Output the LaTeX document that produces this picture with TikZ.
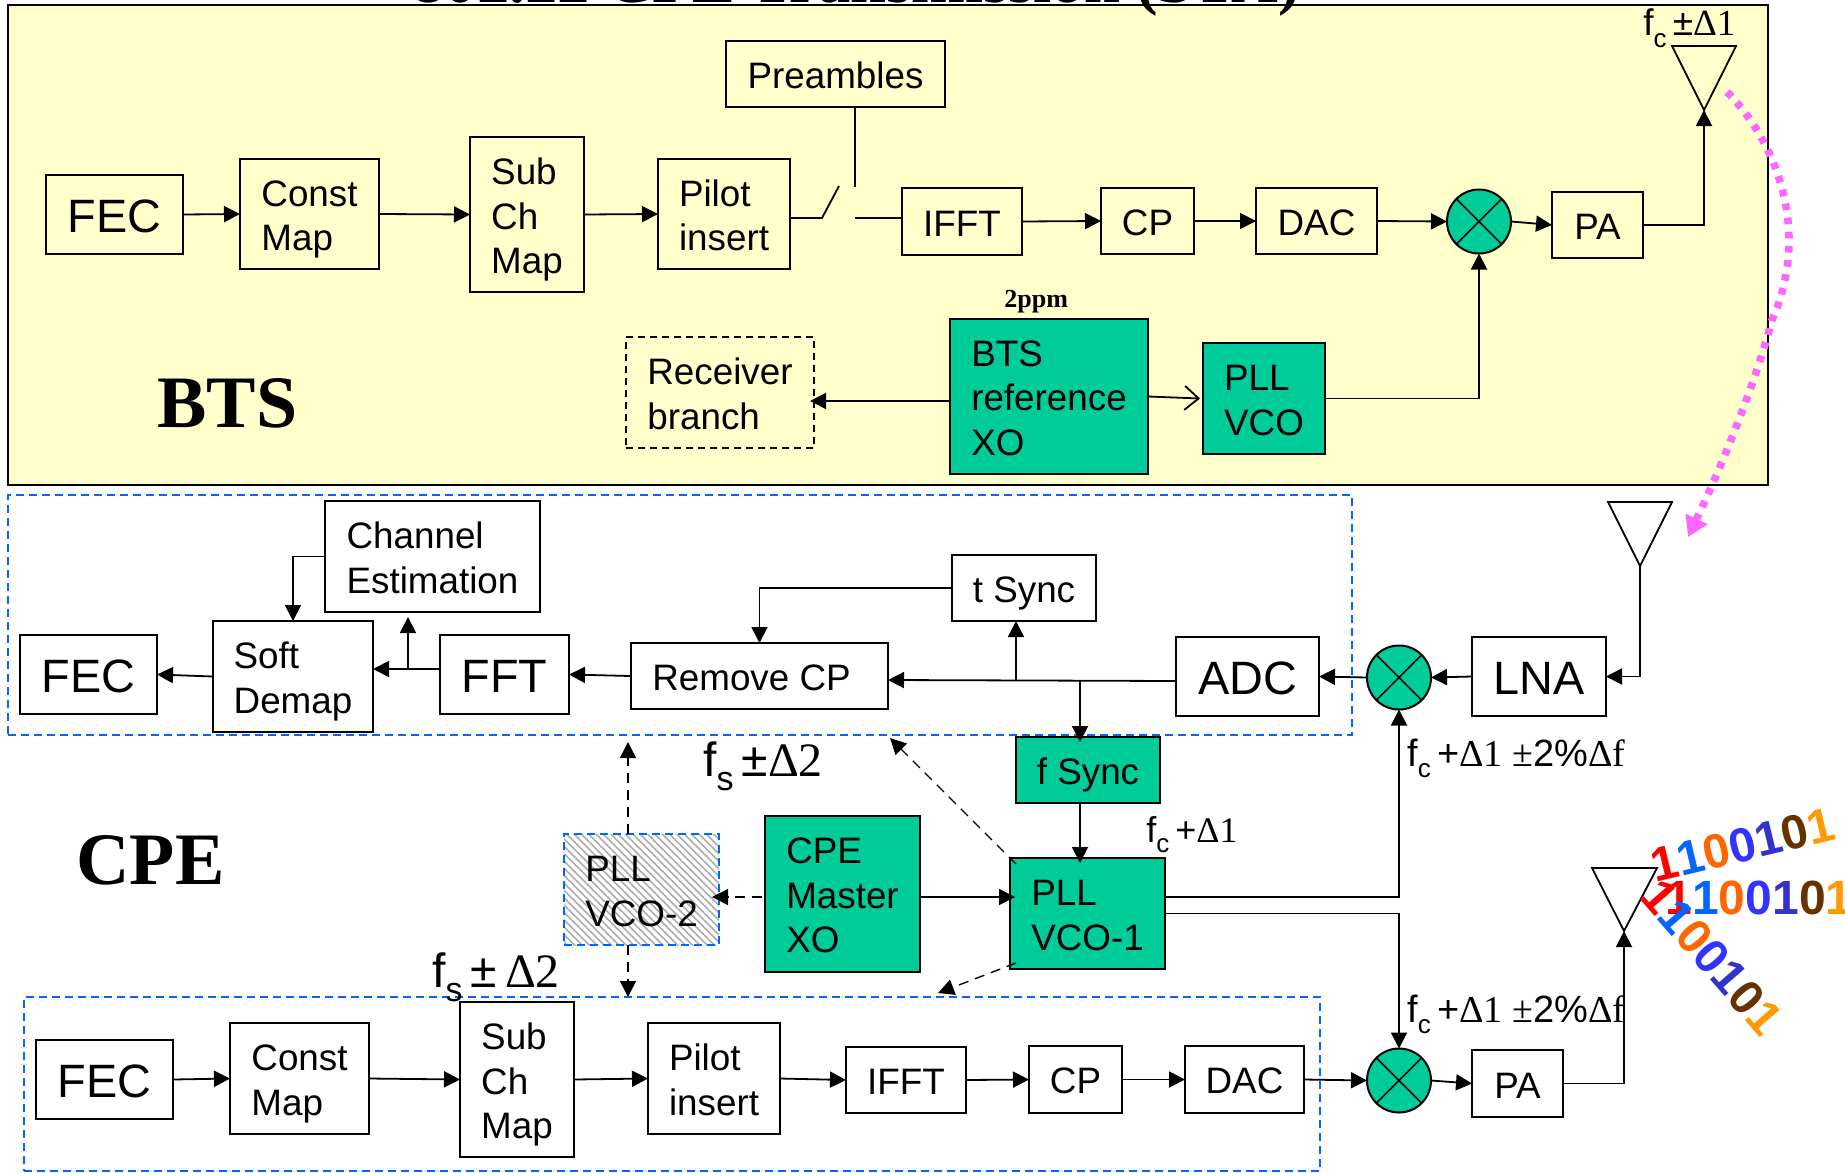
\documentclass[tikz,border=0pt]{standalone}
\usepackage{fontspec}
\setmainfont{Liberation Sans}
\newfontfamily\tms{Liberation Serif}
\usetikzlibrary{arrows.meta,calc,patterns.meta}
\definecolor{yel}{HTML}{FFFFCC}
\definecolor{grn}{HTML}{00CC99}
\definecolor{blu}{HTML}{0066FF}
\definecolor{pnk}{HTML}{FF66FF}
\definecolor{dA}{HTML}{FF0000}
\definecolor{dB}{HTML}{0066FF}
\definecolor{dC}{HTML}{FF6600}
\definecolor{dD}{HTML}{3333FF}
\definecolor{dE}{HTML}{3333CC}
\definecolor{dF}{HTML}{663300}
\definecolor{dG}{HTML}{FF9900}
\newcommand\fsA{\fontsize{18.4}{22.2}\selectfont}
\newcommand\fsB{\fontsize{23.4}{28}\selectfont}
\newcommand\lbl[2]{f\raisebox{-.3em}{\fontsize{#1}{#1}\selectfont #2}}
\newcommand\binstr{\textcolor{dA}{1}\textcolor{dB}{1}\textcolor{dC}{0}\textcolor{dD}{0}\textcolor{dE}{1}\textcolor{dF}{0}\textcolor{dG}{1}}
% \bx{style}{name}{x1}{y1}{x2}{y2}{text}
\newcommand\bx[7]{\node[#1,minimum width={(#5-#3)*0.5pt},minimum height={(#6-#4)*0.5pt}] (#2) at ({(#3+#5)/2},{(#4+#6)/2}) {\rule{0pt}{.79em}#7};}
\tikzset{
  blk/.style={draw=black,line width=1pt,inner sep=0pt,outer sep=0pt,align=left,font=\fsA,text=black},
  big/.style={blk,font=\fsB},
  grnbox/.style={blk,fill=grn},
  bluebox/.style={draw=blu,line width=1pt,dash pattern=on 4pt off 2.5pt,inner sep=0pt,outer sep=0pt},
  recvbox/.style={blk,dash pattern=on 3.5pt off 2.5pt,line width=.8pt},
  hatchbox/.style={bluebox,pattern={Lines[angle=-45,distance=2.6pt,line width=.8pt]},pattern color=gray!65,align=left,font=\fsA,text=black},
  mixer/.style={circle,draw=black,line width=1pt,fill=grn,minimum size=32pt,inner sep=0pt,outer sep=0pt},
  arr/.style={line width=.9pt,-{Triangle[length=8pt,width=8pt]}},
  plain/.style={line width=.9pt},
  darr/.style={line width=.7pt,dash pattern=on 5pt off 3.5pt,-{Triangle[length=8pt,width=8pt]}},
  ant/.style={line width=.9pt},
  crossl/.style={line width=.8pt},
  freq/.style={anchor=base west,inner sep=0pt,text=black},
  heading/.style={anchor=base west,inner sep=0pt,font=\tms\bfseries\fontsize{37}{40}\selectfont},
  bits/.style={inner sep=0pt,font=\bfseries\fontsize{24}{26}\selectfont},
}
\begin{document}
\begin{tikzpicture}[x=0.5pt,y=-0.5pt]
\useasboundingbox (0,0) rectangle (1845,1172);
\fill[white] (0,0) rectangle (1845,1172);
\begin{scope}
\clip (0,0) rectangle (1845,1172);
% panels
\bx{draw=black,line width=1.2pt,fill=yel,inner sep=0pt,outer sep=0pt}{btspanel}{8}{5}{1768}{485}{}
\node[anchor=base west,inner sep=0pt,font=\tms\bfseries\fontsize{32.3}{34}\selectfont] (title) at (412,3) {802.22 CPE Transmission (STA)};
\bx{bluebox}{rxpanel}{8}{495}{1352}{735}{}
\bx{bluebox}{txpanel}{24}{997}{1320}{1171}{}
% BTS
\bx{big}{fec}{46}{175}{183}{254}{FEC}
\bx{blk}{cmap}{240}{159}{379}{269}{Const\\\smash{Map}}
\bx{blk}{sub}{470}{137}{584}{292}{Sub\\Ch\\\smash{Map}}
\bx{blk}{pilot}{658}{159}{790}{269}{Pilot\\insert}
\bx{blk}{pre}{726}{41}{945}{107}{Preambles}
\bx{blk}{ifft}{902}{188}{1022}{255}{IFFT}
\bx{blk}{cp}{1101}{188}{1194}{254}{CP}
\bx{blk}{dac}{1256}{188}{1377}{254}{DAC}
\node[mixer] (mixb) at (1479,221.5) {};
\bx{blk}{pa}{1552}{192}{1643}{258}{PA}
\bx{recvbox}{recv}{626}{337}{814}{448}{Receiver\\branch}
\bx{grnbox}{bref}{950}{319}{1148}{474}{BTS\\reference\\XO}
\bx{grnbox}{pllb}{1203}{343}{1325}{454}{PLL\\VCO}
\node[anchor=base west,inner sep=0pt,font=\tms\bfseries\fontsize{13}{15}\selectfont] (ppm) at (1004,307) {2ppm};
\node[heading] (btsl) at (157,427) {BTS};
\coordinate (ant1) at (1704,110);
\draw[ant,fill=yel] (1672,46) -- (1736,46) -- (ant1) -- cycle;
\node[freq] (fc1) at (1643,36) {\fontsize{18.5}{22}\selectfont \lbl{13}{c}\,±{\tms Δ1}};
% receive
\bx{blk}{che}{325}{501}{540}{612}{Channel\\Estimation}
\bx{blk}{soft}{213}{621}{373}{732}{Soft\\\smash{Demap}}
\bx{big}{fecr}{20}{635}{157}{714}{FEC}
\bx{big}{fft}{440}{635}{569}{714}{FFT}
\bx{blk}{rem}{631}{643}{888}{709}{\hbox{Remove CP\kern8pt}}
\bx{blk}{tsync}{952}{555}{1096}{621}{\smash{t Sync}}
\bx{big}{adc}{1176}{637}{1319}{716}{ADC}
\node[mixer] (mixr) at (1399,677.5) {};
\bx{big}{lna}{1472}{637}{1606}{716}{LNA}
\coordinate (ant2) at (1640,566);
\draw[ant] (1608,502) -- (1672,502) -- (ant2) -- cycle;
% clocks
\bx{grnbox}{fsync}{1016}{737}{1160}{803}{\smash{f Sync}}
\bx{grnbox}{cpem}{765}{816}{920}{972}{CPE\\Master\\XO}
\bx{grnbox}{pllc}{1010}{858}{1165}{969}{PLL\\VCO-1}
\bx{hatchbox}{vco}{564}{834}{719}{945}{PLL\\VCO-2}
\node[heading] (cpel) at (76,884) {CPE};
\node[freq] (fs1) at (703,776) {\fontsize{24}{26}\selectfont \lbl{17}{s}\,±{\tms Δ2}};
\node[freq] (fs2) at (432,987) {\fontsize{24}{26}\selectfont \lbl{17}{s}\,±\,{\tms Δ2}};
\node[freq] (fc2) at (1146,842) {\fontsize{18}{20}\selectfont \lbl{13}{c}\,+{\tms Δ1}};
\node[freq] (fc3) at (1407,766) {\fontsize{19}{22}\selectfont \lbl{13}{c}\,+{\tms Δ1 ±}2\%{\tms Δf}};
\node[freq] (fc4) at (1407,1022) {\fontsize{19}{22}\selectfont \lbl{13}{c}\,+{\tms Δ1 ±}2\%{\tms Δf}};
% transmit
\bx{big}{fect}{36}{1040}{173}{1119}{FEC}
\bx{blk}{cmapt}{230}{1023}{369}{1134}{Const\\\smash{Map}}
\bx{blk}{subt}{460}{1002}{574}{1157}{Sub\\Ch\\\smash{Map}}
\bx{blk}{pilott}{648}{1023}{780}{1134}{Pilot\\insert}
\bx{blk}{ifftt}{846}{1047}{966}{1113}{IFFT}
\bx{blk}{cpt}{1029}{1046}{1122}{1113}{CP}
\bx{blk}{dact}{1185}{1046}{1304}{1113}{DAC}
\node[mixer] (mixt) at (1399,1080.5) {};
\bx{blk}{pat}{1472}{1050}{1563}{1117}{PA}
\coordinate (ant3) at (1624,931);
\draw[ant] (1592,868) -- (1657,868) -- (ant3) -- cycle;
% mixer crosses
\foreach \m in {mixb,mixr,mixt}{
  \draw[crossl] (\m.45) -- (\m.225);
  \draw[crossl] (\m.135) -- (\m.-45);
}
% BTS connectors
\draw[arr] (fec.east) -- (cmap.west);
\draw[arr] (cmap.east) -- (sub.west);
\draw[arr] (sub.east) -- (pilot.west);
\coordinate (swL) at (822,218);
\coordinate (swB) at (839,186);
\coordinate (swR) at (855,218);
\coordinate (swT) at (855,187);
\draw[plain] ($(pilot.east)+(0,4)$) -- (swL) -- (swB);
\draw[plain] (swR) -- (swR -| ifft.west);
\draw[plain] (swT |- pre.south) -- (swT);
\draw[arr] (ifft.east) -- (cp.west);
\draw[arr] (cp.east) -- (dac.west);
\draw[arr] (dac.east) -- (mixb.west);
\draw[arr] (mixb.east) -- (pa.west);
\draw[arr] (pa.east) -| (ant1);
\draw[arr] (pllb.east) -| (mixb.south);
\draw[arr] ($(bref.west)+(0,4.5)$) -- ($(recv.east)+(-4,8.5)$);
\draw[line width=.9pt,-{Straight Barb[length=7pt,width=12pt]}] (bref.east) -- ($(pllb.west)+(-3,0)$);
% receive connectors
\draw[arr] (ant2) |- (lna.east);
\draw[arr] (lna.west) -- (mixr.east);
\draw[arr] (mixr.west) -- (adc.east);
\coordinate (j1) at (1016,681);
\coordinate (j2) at (1080,680);
\draw[arr] ($(adc.west)+(0,4.5)$) -- ($(rem.east)+(0,4)$);
\draw[line width=.7pt,-{Triangle[length=8pt,width=8pt]}] (j1) -- (j1 |- tsync.south);
\draw[arr] (j2) -- ($(j2 |- fsync.north)+(0,5)$);
\draw[arr] (j2 |- fsync.south) -- ($(j2 |- pllc.north)+(0,5)$);
\draw[arr] (tsync.west) -| (rem.north);
\draw[arr] (rem.west) -- (fft.east);
\draw[arr] ($(fft.west)+(0,-5.5)$) -- ($(soft.east)+(0,-7.5)$);
\coordinate (j3) at (408,669);
\draw[arr] (j3) -- ($(j3 |- che.south)+(0,5)$);
\draw[arr] (che.west) -| (soft.north);
\draw[arr] (soft.west) -- (fecr.east);
% clock connectors
\draw[arr] ($(cpem.east)+(0,3)$) -- ($(pllc.west)+(5,-16.5)$);
\draw[darr] ($(cpem.west)+(-3,3)$) -- ($(vco.east)+(-7,7.5)$);
\coordinate (dtop) at (628,742);
\coordinate (dbot) at (628,997);
\draw[darr] (dtop |- vco.north) -- (dtop);
\draw[darr] (dtop |- vco.south) -- (dbot);
\coordinate (dul) at (890,738);
\coordinate (dll) at (938,993);
\draw[darr] ($(pllc.north west)+(6,6)$) -- (dul);
\draw[darr] ($(pllc.south west)+(6,-6)$) -- (dll);
\draw[arr] ($(pllc.east)+(0,-16.5)$) -| (mixr.south);
\draw[arr] (pllc.east) -| (mixt.north);
% transmit connectors
\draw[arr] (fect.east) -- (cmapt.west);
\draw[arr] (cmapt.east) -- (subt.west);
\draw[arr] (subt.east) -- (pilott.west);
\draw[arr] (pilott.east) -- (ifftt.west);
\draw[arr] (ifftt.east) -- (cpt.west);
\draw[arr] (cpt.east) -- (dact.west);
\draw[arr] (dact.east) -- (mixt.west);
\draw[arr] (mixt.east) -- (pat.west);
\draw[arr] (pat.east) -| (ant3);
% wireless link
\draw[pnk,line width=3.8pt,dash pattern=on 3.3pt off 3.8pt,-{Triangle[length=10pt,width=11.5pt]}]
  (1727,92) .. controls (1775,140) and (1812,230) .. (1772,320)
  .. controls (1755,385) and (1720,470) .. (1688,537);
% bits
\node[bits,rotate=13.5] (b1) at (1742.5,845) {\binstr};
\node[bits] (b2) at (1759,898) {\binstr};
\node[bits,rotate=-49] (b3) at (1712,957) {\binstr};
\end{scope}
\end{tikzpicture}
\end{document}
